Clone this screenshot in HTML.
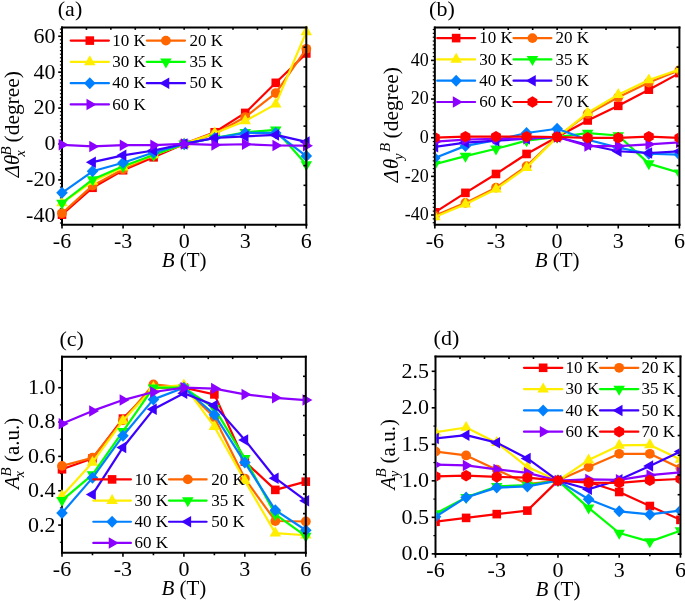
<!DOCTYPE html>
<html><head><meta charset="utf-8"><style>
html,body{margin:0;padding:0;background:#fff;}
svg{display:block;}
text{font-family:"Liberation Serif", serif;fill:#000;}
</style></head><body>
<div style="will-change:transform;width:685px;height:601px;background:#fff"><svg width="685" height="601" viewBox="0 0 685 601">
<rect width="685" height="601" fill="#fff"/>
<line x1="62" y1="27.45" x2="62" y2="224.8" stroke="#000" stroke-width="2.0" stroke-linecap="square"/>
<line x1="62" y1="224.8" x2="306.3" y2="224.8" stroke="#000" stroke-width="2.0" stroke-linecap="square"/>
<line x1="62.00" y1="224.8" x2="62.00" y2="228.60000000000002" stroke="#000" stroke-width="1.6"/>
<text x="62.00" y="247.70" font-size="22" text-anchor="middle">-6</text>
<line x1="123.08" y1="224.8" x2="123.08" y2="228.60000000000002" stroke="#000" stroke-width="1.6"/>
<text x="123.08" y="247.70" font-size="22" text-anchor="middle">-3</text>
<line x1="184.15" y1="224.8" x2="184.15" y2="228.60000000000002" stroke="#000" stroke-width="1.6"/>
<text x="184.15" y="247.70" font-size="22" text-anchor="middle">0</text>
<line x1="245.23" y1="224.8" x2="245.23" y2="228.60000000000002" stroke="#000" stroke-width="1.6"/>
<text x="245.23" y="247.70" font-size="22" text-anchor="middle">3</text>
<line x1="306.30" y1="224.8" x2="306.30" y2="228.60000000000002" stroke="#000" stroke-width="1.6"/>
<text x="306.30" y="247.70" font-size="22" text-anchor="middle">6</text>
<line x1="92.54" y1="224.8" x2="92.54" y2="227.20000000000002" stroke="#000" stroke-width="1.6"/>
<line x1="153.61" y1="224.8" x2="153.61" y2="227.20000000000002" stroke="#000" stroke-width="1.6"/>
<line x1="214.69" y1="224.8" x2="214.69" y2="227.20000000000002" stroke="#000" stroke-width="1.6"/>
<line x1="275.76" y1="224.8" x2="275.76" y2="227.20000000000002" stroke="#000" stroke-width="1.6"/>
<line x1="58.20" y1="36.24" x2="62" y2="36.24" stroke="#000" stroke-width="1.6"/>
<text x="55.40" y="42.64" font-size="22" text-anchor="end">60</text>
<line x1="58.20" y1="72.16" x2="62" y2="72.16" stroke="#000" stroke-width="1.6"/>
<text x="55.40" y="78.56" font-size="22" text-anchor="end">40</text>
<line x1="58.20" y1="108.08" x2="62" y2="108.08" stroke="#000" stroke-width="1.6"/>
<text x="55.40" y="114.48" font-size="22" text-anchor="end">20</text>
<line x1="58.20" y1="144.00" x2="62" y2="144.00" stroke="#000" stroke-width="1.6"/>
<text x="55.40" y="150.40" font-size="22" text-anchor="end">0</text>
<line x1="58.20" y1="179.92" x2="62" y2="179.92" stroke="#000" stroke-width="1.6"/>
<text x="55.40" y="186.32" font-size="22" text-anchor="end">-20</text>
<line x1="58.20" y1="215.84" x2="62" y2="215.84" stroke="#000" stroke-width="1.6"/>
<text x="55.40" y="222.24" font-size="22" text-anchor="end">-40</text>
<line x1="59.90" y1="223.02" x2="62" y2="223.02" stroke="#000" stroke-width="1.2"/>
<line x1="59.90" y1="219.43" x2="62" y2="219.43" stroke="#000" stroke-width="1.2"/>
<line x1="59.90" y1="212.25" x2="62" y2="212.25" stroke="#000" stroke-width="1.2"/>
<line x1="59.90" y1="208.66" x2="62" y2="208.66" stroke="#000" stroke-width="1.2"/>
<line x1="59.90" y1="205.06" x2="62" y2="205.06" stroke="#000" stroke-width="1.2"/>
<line x1="59.90" y1="201.47" x2="62" y2="201.47" stroke="#000" stroke-width="1.2"/>
<line x1="59.90" y1="197.88" x2="62" y2="197.88" stroke="#000" stroke-width="1.2"/>
<line x1="59.90" y1="194.29" x2="62" y2="194.29" stroke="#000" stroke-width="1.2"/>
<line x1="59.90" y1="190.70" x2="62" y2="190.70" stroke="#000" stroke-width="1.2"/>
<line x1="59.90" y1="187.10" x2="62" y2="187.10" stroke="#000" stroke-width="1.2"/>
<line x1="59.90" y1="183.51" x2="62" y2="183.51" stroke="#000" stroke-width="1.2"/>
<line x1="59.90" y1="176.33" x2="62" y2="176.33" stroke="#000" stroke-width="1.2"/>
<line x1="59.90" y1="172.74" x2="62" y2="172.74" stroke="#000" stroke-width="1.2"/>
<line x1="59.90" y1="169.14" x2="62" y2="169.14" stroke="#000" stroke-width="1.2"/>
<line x1="59.90" y1="165.55" x2="62" y2="165.55" stroke="#000" stroke-width="1.2"/>
<line x1="59.90" y1="161.96" x2="62" y2="161.96" stroke="#000" stroke-width="1.2"/>
<line x1="59.90" y1="158.37" x2="62" y2="158.37" stroke="#000" stroke-width="1.2"/>
<line x1="59.90" y1="154.78" x2="62" y2="154.78" stroke="#000" stroke-width="1.2"/>
<line x1="59.90" y1="151.18" x2="62" y2="151.18" stroke="#000" stroke-width="1.2"/>
<line x1="59.90" y1="147.59" x2="62" y2="147.59" stroke="#000" stroke-width="1.2"/>
<line x1="59.90" y1="140.41" x2="62" y2="140.41" stroke="#000" stroke-width="1.2"/>
<line x1="59.90" y1="136.82" x2="62" y2="136.82" stroke="#000" stroke-width="1.2"/>
<line x1="59.90" y1="133.22" x2="62" y2="133.22" stroke="#000" stroke-width="1.2"/>
<line x1="59.90" y1="129.63" x2="62" y2="129.63" stroke="#000" stroke-width="1.2"/>
<line x1="59.90" y1="126.04" x2="62" y2="126.04" stroke="#000" stroke-width="1.2"/>
<line x1="59.90" y1="122.45" x2="62" y2="122.45" stroke="#000" stroke-width="1.2"/>
<line x1="59.90" y1="118.86" x2="62" y2="118.86" stroke="#000" stroke-width="1.2"/>
<line x1="59.90" y1="115.26" x2="62" y2="115.26" stroke="#000" stroke-width="1.2"/>
<line x1="59.90" y1="111.67" x2="62" y2="111.67" stroke="#000" stroke-width="1.2"/>
<line x1="59.90" y1="104.49" x2="62" y2="104.49" stroke="#000" stroke-width="1.2"/>
<line x1="59.90" y1="100.90" x2="62" y2="100.90" stroke="#000" stroke-width="1.2"/>
<line x1="59.90" y1="97.30" x2="62" y2="97.30" stroke="#000" stroke-width="1.2"/>
<line x1="59.90" y1="93.71" x2="62" y2="93.71" stroke="#000" stroke-width="1.2"/>
<line x1="59.90" y1="90.12" x2="62" y2="90.12" stroke="#000" stroke-width="1.2"/>
<line x1="59.90" y1="86.53" x2="62" y2="86.53" stroke="#000" stroke-width="1.2"/>
<line x1="59.90" y1="82.94" x2="62" y2="82.94" stroke="#000" stroke-width="1.2"/>
<line x1="59.90" y1="79.34" x2="62" y2="79.34" stroke="#000" stroke-width="1.2"/>
<line x1="59.90" y1="75.75" x2="62" y2="75.75" stroke="#000" stroke-width="1.2"/>
<line x1="59.90" y1="68.57" x2="62" y2="68.57" stroke="#000" stroke-width="1.2"/>
<line x1="59.90" y1="64.98" x2="62" y2="64.98" stroke="#000" stroke-width="1.2"/>
<line x1="59.90" y1="61.38" x2="62" y2="61.38" stroke="#000" stroke-width="1.2"/>
<line x1="59.90" y1="57.79" x2="62" y2="57.79" stroke="#000" stroke-width="1.2"/>
<line x1="59.90" y1="54.20" x2="62" y2="54.20" stroke="#000" stroke-width="1.2"/>
<line x1="59.90" y1="50.61" x2="62" y2="50.61" stroke="#000" stroke-width="1.2"/>
<line x1="59.90" y1="47.02" x2="62" y2="47.02" stroke="#000" stroke-width="1.2"/>
<line x1="59.90" y1="43.42" x2="62" y2="43.42" stroke="#000" stroke-width="1.2"/>
<line x1="59.90" y1="39.83" x2="62" y2="39.83" stroke="#000" stroke-width="1.2"/>
<line x1="59.90" y1="32.65" x2="62" y2="32.65" stroke="#000" stroke-width="1.2"/>
<line x1="59.90" y1="29.06" x2="62" y2="29.06" stroke="#000" stroke-width="1.2"/>
<text x="184.15" y="267.30" font-size="21" text-anchor="middle"><tspan font-style="italic">B</tspan> (T)</text>
<g transform="translate(19,178.5) rotate(-90)"><text x="1.2" y="0" font-style="italic" font-size="21">Δθ</text><text x="23" y="-8.25" font-style="italic" font-size="15">B</text><text x="21.9" y="6" font-style="italic" font-size="14">x</text><text x="36.1" y="0" font-size="21.4">(degree)</text></g>
<text x="57.8" y="15.5" font-size="22">(a)</text>
<polyline points="62.00,214.64 92.54,187.78 123.08,170.23 153.61,157.33 184.15,143.90 214.69,132.26 245.23,112.92 275.76,82.83 306.30,53.45" fill="none" stroke="#ff0000" stroke-width="2.2" stroke-linejoin="round"/>
<rect x="57.70" y="210.34" width="8.60" height="8.60" fill="#ff0000"/>
<rect x="88.24" y="183.48" width="8.60" height="8.60" fill="#ff0000"/>
<rect x="118.78" y="165.93" width="8.60" height="8.60" fill="#ff0000"/>
<rect x="149.31" y="153.03" width="8.60" height="8.60" fill="#ff0000"/>
<rect x="179.85" y="139.60" width="8.60" height="8.60" fill="#ff0000"/>
<rect x="210.39" y="127.96" width="8.60" height="8.60" fill="#ff0000"/>
<rect x="240.93" y="108.62" width="8.60" height="8.60" fill="#ff0000"/>
<rect x="271.46" y="78.53" width="8.60" height="8.60" fill="#ff0000"/>
<rect x="302.00" y="49.15" width="8.60" height="8.60" fill="#ff0000"/>
<polyline points="62.00,213.21 92.54,185.63 123.08,169.33 153.61,155.00 184.15,143.90 214.69,134.05 245.23,117.04 275.76,93.04 306.30,48.80" fill="none" stroke="#ff6600" stroke-width="2.2" stroke-linejoin="round"/>
<circle cx="62.00" cy="213.21" r="4.9" fill="#ff6600"/>
<circle cx="92.54" cy="185.63" r="4.9" fill="#ff6600"/>
<circle cx="123.08" cy="169.33" r="4.9" fill="#ff6600"/>
<circle cx="153.61" cy="155.00" r="4.9" fill="#ff6600"/>
<circle cx="184.15" cy="143.90" r="4.9" fill="#ff6600"/>
<circle cx="214.69" cy="134.05" r="4.9" fill="#ff6600"/>
<circle cx="245.23" cy="117.04" r="4.9" fill="#ff6600"/>
<circle cx="275.76" cy="93.04" r="4.9" fill="#ff6600"/>
<circle cx="306.30" cy="48.80" r="4.9" fill="#ff6600"/>
<polyline points="62.00,203.00 92.54,181.51 123.08,167.18 153.61,155.00 184.15,143.90 214.69,133.15 245.23,120.98 275.76,104.14 306.30,31.96" fill="none" stroke="#ffee00" stroke-width="2.2" stroke-linejoin="round"/>
<polygon points="62.00,196.36 67.75,206.32 56.25,206.32" fill="#ffee00"/>
<polygon points="92.54,174.87 98.29,184.83 86.79,184.83" fill="#ffee00"/>
<polygon points="123.08,160.54 128.82,170.50 117.33,170.50" fill="#ffee00"/>
<polygon points="153.61,148.36 159.36,158.32 147.86,158.32" fill="#ffee00"/>
<polygon points="184.15,137.26 189.90,147.22 178.40,147.22" fill="#ffee00"/>
<polygon points="214.69,126.51 220.44,136.47 208.94,136.47" fill="#ffee00"/>
<polygon points="245.23,114.34 250.98,124.29 239.48,124.29" fill="#ffee00"/>
<polygon points="275.76,97.50 281.51,107.46 270.01,107.46" fill="#ffee00"/>
<polygon points="306.30,25.32 312.05,35.28 300.55,35.28" fill="#ffee00"/>
<polyline points="62.00,203.00 92.54,179.54 123.08,166.29 153.61,155.00 184.15,143.90 214.69,137.99 245.23,132.26 275.76,129.93 306.30,164.50" fill="none" stroke="#00ff00" stroke-width="2.2" stroke-linejoin="round"/>
<polygon points="62.00,209.64 67.75,199.68 56.25,199.68" fill="#00ff00"/>
<polygon points="92.54,186.18 98.29,176.22 86.79,176.22" fill="#00ff00"/>
<polygon points="123.08,172.93 128.82,162.97 117.33,162.97" fill="#00ff00"/>
<polygon points="153.61,161.64 159.36,151.68 147.86,151.68" fill="#00ff00"/>
<polygon points="184.15,150.54 189.90,140.58 178.40,140.58" fill="#00ff00"/>
<polygon points="214.69,144.63 220.44,134.67 208.94,134.67" fill="#00ff00"/>
<polygon points="245.23,138.90 250.98,128.94 239.48,128.94" fill="#00ff00"/>
<polygon points="275.76,136.57 281.51,126.61 270.01,126.61" fill="#00ff00"/>
<polygon points="306.30,171.14 312.05,161.18 300.55,161.18" fill="#00ff00"/>
<polyline points="62.00,192.79 92.54,171.30 123.08,162.71 153.61,152.50 184.15,143.90 214.69,137.99 245.23,132.97 275.76,132.97 306.30,156.08" fill="none" stroke="#0080ff" stroke-width="2.2" stroke-linejoin="round"/>
<polygon points="62.00,186.79 67.80,192.79 62.00,198.79 56.20,192.79" fill="#0080ff"/>
<polygon points="92.54,165.30 98.34,171.30 92.54,177.30 86.74,171.30" fill="#0080ff"/>
<polygon points="123.08,156.71 128.88,162.71 123.08,168.71 117.28,162.71" fill="#0080ff"/>
<polygon points="153.61,146.50 159.41,152.50 153.61,158.50 147.81,152.50" fill="#0080ff"/>
<polygon points="184.15,137.90 189.95,143.90 184.15,149.90 178.35,143.90" fill="#0080ff"/>
<polygon points="214.69,131.99 220.49,137.99 214.69,143.99 208.89,137.99" fill="#0080ff"/>
<polygon points="245.23,126.97 251.03,132.97 245.23,138.97 239.43,132.97" fill="#0080ff"/>
<polygon points="275.76,126.97 281.56,132.97 275.76,138.97 269.96,132.97" fill="#0080ff"/>
<polygon points="306.30,150.08 312.10,156.08 306.30,162.08 300.50,156.08" fill="#0080ff"/>
<polyline points="92.54,162.17 123.08,155.36 153.61,150.53 184.15,143.90 214.69,137.99 245.23,136.38 275.76,134.94 306.30,141.93" fill="none" stroke="#3c00ff" stroke-width="2.2" stroke-linejoin="round"/>
<polygon points="85.90,162.17 95.86,156.42 95.86,167.92" fill="#3c00ff"/>
<polygon points="116.44,155.36 126.39,149.61 126.39,161.11" fill="#3c00ff"/>
<polygon points="146.97,150.53 156.93,144.78 156.93,156.28" fill="#3c00ff"/>
<polygon points="177.51,143.90 187.47,138.15 187.47,149.65" fill="#3c00ff"/>
<polygon points="208.05,137.99 218.01,132.24 218.01,143.74" fill="#3c00ff"/>
<polygon points="238.59,136.38 248.54,130.63 248.54,142.13" fill="#3c00ff"/>
<polygon points="269.12,134.94 279.08,129.19 279.08,140.69" fill="#3c00ff"/>
<polygon points="299.66,141.93 309.62,136.18 309.62,147.68" fill="#3c00ff"/>
<polyline points="62.00,144.80 92.54,146.41 123.08,145.15 153.61,145.15 184.15,143.90 214.69,144.97 245.23,144.26 275.76,145.51 306.30,145.69" fill="none" stroke="#8c00ff" stroke-width="2.2" stroke-linejoin="round"/>
<polygon points="68.64,144.80 58.68,139.05 58.68,150.55" fill="#8c00ff"/>
<polygon points="99.18,146.41 89.22,140.66 89.22,152.16" fill="#8c00ff"/>
<polygon points="129.71,145.15 119.76,139.40 119.76,150.90" fill="#8c00ff"/>
<polygon points="160.25,145.15 150.29,139.40 150.29,150.90" fill="#8c00ff"/>
<polygon points="190.79,143.90 180.83,138.15 180.83,149.65" fill="#8c00ff"/>
<polygon points="221.33,144.97 211.37,139.22 211.37,150.72" fill="#8c00ff"/>
<polygon points="251.86,144.26 241.91,138.51 241.91,150.01" fill="#8c00ff"/>
<polygon points="282.40,145.51 272.44,139.76 272.44,151.26" fill="#8c00ff"/>
<polygon points="312.94,145.69 302.98,139.94 302.98,151.44" fill="#8c00ff"/>
<line x1="70.70" y1="40.60" x2="108.90" y2="40.60" stroke="#ff0000" stroke-width="2.2" stroke-linecap="round"/>
<rect x="85.50" y="36.30" width="8.60" height="8.60" fill="#ff0000"/>
<text x="145.80" y="45.70" font-size="17" text-anchor="end">10 K</text>
<line x1="146.80" y1="40.60" x2="185.00" y2="40.60" stroke="#ff6600" stroke-width="2.2" stroke-linecap="round"/>
<circle cx="165.90" cy="40.60" r="4.9" fill="#ff6600"/>
<text x="223.00" y="45.70" font-size="17" text-anchor="end">20 K</text>
<line x1="70.70" y1="61.87" x2="108.90" y2="61.87" stroke="#ffee00" stroke-width="2.2" stroke-linecap="round"/>
<polygon points="89.80,55.23 95.55,65.19 84.05,65.19" fill="#ffee00"/>
<text x="145.80" y="66.97" font-size="17" text-anchor="end">30 K</text>
<line x1="146.80" y1="61.87" x2="185.00" y2="61.87" stroke="#00ff00" stroke-width="2.2" stroke-linecap="round"/>
<polygon points="165.90,68.51 171.65,58.55 160.15,58.55" fill="#00ff00"/>
<text x="223.00" y="66.97" font-size="17" text-anchor="end">35 K</text>
<line x1="70.70" y1="83.14" x2="108.90" y2="83.14" stroke="#0080ff" stroke-width="2.2" stroke-linecap="round"/>
<polygon points="89.80,77.14 95.60,83.14 89.80,89.14 84.00,83.14" fill="#0080ff"/>
<text x="145.80" y="88.24" font-size="17" text-anchor="end">40 K</text>
<line x1="146.80" y1="83.14" x2="185.00" y2="83.14" stroke="#3c00ff" stroke-width="2.2" stroke-linecap="round"/>
<polygon points="159.26,83.14 169.22,77.39 169.22,88.89" fill="#3c00ff"/>
<text x="223.00" y="88.24" font-size="17" text-anchor="end">50 K</text>
<line x1="70.70" y1="104.41" x2="108.90" y2="104.41" stroke="#8c00ff" stroke-width="2.2" stroke-linecap="round"/>
<polygon points="96.44,104.41 86.48,98.66 86.48,110.16" fill="#8c00ff"/>
<text x="145.80" y="109.51" font-size="17" text-anchor="end">60 K</text>
<line x1="62" y1="27.45" x2="306.3" y2="27.45" stroke="#000" stroke-width="2.0" stroke-linecap="square"/>
<line x1="306.3" y1="27.45" x2="306.3" y2="224.8" stroke="#000" stroke-width="2.0" stroke-linecap="square"/>
<line x1="86.43" y1="27.45" x2="86.43" y2="29.849999999999998" stroke="#000" stroke-width="1.6"/>
<line x1="303.50" y1="47.19" x2="306.3" y2="47.19" stroke="#000" stroke-width="1.6"/>
<line x1="110.86" y1="27.45" x2="110.86" y2="29.849999999999998" stroke="#000" stroke-width="1.6"/>
<line x1="303.50" y1="66.92" x2="306.3" y2="66.92" stroke="#000" stroke-width="1.6"/>
<line x1="135.29" y1="27.45" x2="135.29" y2="29.849999999999998" stroke="#000" stroke-width="1.6"/>
<line x1="303.50" y1="86.66" x2="306.3" y2="86.66" stroke="#000" stroke-width="1.6"/>
<line x1="159.72" y1="27.45" x2="159.72" y2="29.849999999999998" stroke="#000" stroke-width="1.6"/>
<line x1="303.50" y1="106.39" x2="306.3" y2="106.39" stroke="#000" stroke-width="1.6"/>
<line x1="184.15" y1="27.45" x2="184.15" y2="29.849999999999998" stroke="#000" stroke-width="1.6"/>
<line x1="303.50" y1="126.13" x2="306.3" y2="126.13" stroke="#000" stroke-width="1.6"/>
<line x1="208.58" y1="27.45" x2="208.58" y2="29.849999999999998" stroke="#000" stroke-width="1.6"/>
<line x1="303.50" y1="145.86" x2="306.3" y2="145.86" stroke="#000" stroke-width="1.6"/>
<line x1="233.01" y1="27.45" x2="233.01" y2="29.849999999999998" stroke="#000" stroke-width="1.6"/>
<line x1="303.50" y1="165.60" x2="306.3" y2="165.60" stroke="#000" stroke-width="1.6"/>
<line x1="257.44" y1="27.45" x2="257.44" y2="29.849999999999998" stroke="#000" stroke-width="1.6"/>
<line x1="303.50" y1="185.33" x2="306.3" y2="185.33" stroke="#000" stroke-width="1.6"/>
<line x1="281.87" y1="27.45" x2="281.87" y2="29.849999999999998" stroke="#000" stroke-width="1.6"/>
<line x1="303.50" y1="205.06" x2="306.3" y2="205.06" stroke="#000" stroke-width="1.6"/>
<line x1="434.85" y1="27.6" x2="434.85" y2="224.7" stroke="#000" stroke-width="2.0" stroke-linecap="square"/>
<line x1="434.85" y1="224.7" x2="679.4" y2="224.7" stroke="#000" stroke-width="2.0" stroke-linecap="square"/>
<line x1="434.85" y1="224.7" x2="434.85" y2="228.5" stroke="#000" stroke-width="1.6"/>
<text x="434.85" y="247.60" font-size="22" text-anchor="middle">-6</text>
<line x1="495.99" y1="224.7" x2="495.99" y2="228.5" stroke="#000" stroke-width="1.6"/>
<text x="495.99" y="247.60" font-size="22" text-anchor="middle">-3</text>
<line x1="557.12" y1="224.7" x2="557.12" y2="228.5" stroke="#000" stroke-width="1.6"/>
<text x="557.12" y="247.60" font-size="22" text-anchor="middle">0</text>
<line x1="618.26" y1="224.7" x2="618.26" y2="228.5" stroke="#000" stroke-width="1.6"/>
<text x="618.26" y="247.60" font-size="22" text-anchor="middle">3</text>
<line x1="679.40" y1="224.7" x2="679.40" y2="228.5" stroke="#000" stroke-width="1.6"/>
<text x="679.40" y="247.60" font-size="22" text-anchor="middle">6</text>
<line x1="465.42" y1="224.7" x2="465.42" y2="227.1" stroke="#000" stroke-width="1.6"/>
<line x1="526.56" y1="224.7" x2="526.56" y2="227.1" stroke="#000" stroke-width="1.6"/>
<line x1="587.69" y1="224.7" x2="587.69" y2="227.1" stroke="#000" stroke-width="1.6"/>
<line x1="648.83" y1="224.7" x2="648.83" y2="227.1" stroke="#000" stroke-width="1.6"/>
<line x1="431.05" y1="60.40" x2="434.85" y2="60.40" stroke="#000" stroke-width="1.6"/>
<text x="428.70" y="65.70" font-size="18" text-anchor="end">40</text>
<line x1="431.05" y1="99.05" x2="434.85" y2="99.05" stroke="#000" stroke-width="1.6"/>
<text x="428.70" y="104.35" font-size="18" text-anchor="end">20</text>
<line x1="431.05" y1="137.70" x2="434.85" y2="137.70" stroke="#000" stroke-width="1.6"/>
<text x="428.70" y="143.00" font-size="18" text-anchor="end">0</text>
<line x1="431.05" y1="176.35" x2="434.85" y2="176.35" stroke="#000" stroke-width="1.6"/>
<text x="428.70" y="181.65" font-size="18" text-anchor="end">-20</text>
<line x1="431.05" y1="215.00" x2="434.85" y2="215.00" stroke="#000" stroke-width="1.6"/>
<text x="428.70" y="220.30" font-size="18" text-anchor="end">-40</text>
<line x1="432.75" y1="222.73" x2="434.85" y2="222.73" stroke="#000" stroke-width="1.2"/>
<line x1="432.75" y1="218.87" x2="434.85" y2="218.87" stroke="#000" stroke-width="1.2"/>
<line x1="432.75" y1="211.13" x2="434.85" y2="211.13" stroke="#000" stroke-width="1.2"/>
<line x1="432.75" y1="207.27" x2="434.85" y2="207.27" stroke="#000" stroke-width="1.2"/>
<line x1="432.75" y1="203.40" x2="434.85" y2="203.40" stroke="#000" stroke-width="1.2"/>
<line x1="432.75" y1="199.54" x2="434.85" y2="199.54" stroke="#000" stroke-width="1.2"/>
<line x1="432.75" y1="195.67" x2="434.85" y2="195.67" stroke="#000" stroke-width="1.2"/>
<line x1="432.75" y1="191.81" x2="434.85" y2="191.81" stroke="#000" stroke-width="1.2"/>
<line x1="432.75" y1="187.94" x2="434.85" y2="187.94" stroke="#000" stroke-width="1.2"/>
<line x1="432.75" y1="184.08" x2="434.85" y2="184.08" stroke="#000" stroke-width="1.2"/>
<line x1="432.75" y1="180.21" x2="434.85" y2="180.21" stroke="#000" stroke-width="1.2"/>
<line x1="432.75" y1="172.48" x2="434.85" y2="172.48" stroke="#000" stroke-width="1.2"/>
<line x1="432.75" y1="168.62" x2="434.85" y2="168.62" stroke="#000" stroke-width="1.2"/>
<line x1="432.75" y1="164.75" x2="434.85" y2="164.75" stroke="#000" stroke-width="1.2"/>
<line x1="432.75" y1="160.89" x2="434.85" y2="160.89" stroke="#000" stroke-width="1.2"/>
<line x1="432.75" y1="157.02" x2="434.85" y2="157.02" stroke="#000" stroke-width="1.2"/>
<line x1="432.75" y1="153.16" x2="434.85" y2="153.16" stroke="#000" stroke-width="1.2"/>
<line x1="432.75" y1="149.29" x2="434.85" y2="149.29" stroke="#000" stroke-width="1.2"/>
<line x1="432.75" y1="145.43" x2="434.85" y2="145.43" stroke="#000" stroke-width="1.2"/>
<line x1="432.75" y1="141.56" x2="434.85" y2="141.56" stroke="#000" stroke-width="1.2"/>
<line x1="432.75" y1="133.83" x2="434.85" y2="133.83" stroke="#000" stroke-width="1.2"/>
<line x1="432.75" y1="129.97" x2="434.85" y2="129.97" stroke="#000" stroke-width="1.2"/>
<line x1="432.75" y1="126.10" x2="434.85" y2="126.10" stroke="#000" stroke-width="1.2"/>
<line x1="432.75" y1="122.24" x2="434.85" y2="122.24" stroke="#000" stroke-width="1.2"/>
<line x1="432.75" y1="118.37" x2="434.85" y2="118.37" stroke="#000" stroke-width="1.2"/>
<line x1="432.75" y1="114.51" x2="434.85" y2="114.51" stroke="#000" stroke-width="1.2"/>
<line x1="432.75" y1="110.64" x2="434.85" y2="110.64" stroke="#000" stroke-width="1.2"/>
<line x1="432.75" y1="106.78" x2="434.85" y2="106.78" stroke="#000" stroke-width="1.2"/>
<line x1="432.75" y1="102.91" x2="434.85" y2="102.91" stroke="#000" stroke-width="1.2"/>
<line x1="432.75" y1="95.18" x2="434.85" y2="95.18" stroke="#000" stroke-width="1.2"/>
<line x1="432.75" y1="91.32" x2="434.85" y2="91.32" stroke="#000" stroke-width="1.2"/>
<line x1="432.75" y1="87.45" x2="434.85" y2="87.45" stroke="#000" stroke-width="1.2"/>
<line x1="432.75" y1="83.59" x2="434.85" y2="83.59" stroke="#000" stroke-width="1.2"/>
<line x1="432.75" y1="79.72" x2="434.85" y2="79.72" stroke="#000" stroke-width="1.2"/>
<line x1="432.75" y1="75.86" x2="434.85" y2="75.86" stroke="#000" stroke-width="1.2"/>
<line x1="432.75" y1="71.99" x2="434.85" y2="71.99" stroke="#000" stroke-width="1.2"/>
<line x1="432.75" y1="68.13" x2="434.85" y2="68.13" stroke="#000" stroke-width="1.2"/>
<line x1="432.75" y1="64.26" x2="434.85" y2="64.26" stroke="#000" stroke-width="1.2"/>
<line x1="432.75" y1="56.53" x2="434.85" y2="56.53" stroke="#000" stroke-width="1.2"/>
<line x1="432.75" y1="52.67" x2="434.85" y2="52.67" stroke="#000" stroke-width="1.2"/>
<line x1="432.75" y1="48.80" x2="434.85" y2="48.80" stroke="#000" stroke-width="1.2"/>
<line x1="432.75" y1="44.94" x2="434.85" y2="44.94" stroke="#000" stroke-width="1.2"/>
<line x1="432.75" y1="41.07" x2="434.85" y2="41.07" stroke="#000" stroke-width="1.2"/>
<line x1="432.75" y1="37.21" x2="434.85" y2="37.21" stroke="#000" stroke-width="1.2"/>
<line x1="432.75" y1="33.34" x2="434.85" y2="33.34" stroke="#000" stroke-width="1.2"/>
<line x1="432.75" y1="29.48" x2="434.85" y2="29.48" stroke="#000" stroke-width="1.2"/>
<text x="557.12" y="267.20" font-size="21" text-anchor="middle"><tspan font-style="italic">B</tspan> (T)</text>
<g transform="translate(398.3,183.3) rotate(-90)"><text x="1" y="0" font-style="italic" font-size="21">Δ</text><text x="14.3" y="0" font-style="italic" font-size="21">θ</text><text x="31.2" y="-8.8" font-style="italic" font-size="15">B</text><text x="23.5" y="5.1" font-style="italic" font-size="14">y</text><text x="44.9" y="0" font-size="21.4">(degree)</text></g>
<text x="429.1" y="16.1" font-size="22">(b)</text>
<clipPath id="c43427"><rect x="435.85" y="28.6" width="242.55" height="195.10"/></clipPath><g clip-path="url(#c43427)">
<polyline points="434.85,212.29 465.42,192.85 495.99,173.98 526.56,153.96 557.12,137.02 587.69,120.47 618.26,105.84 648.83,89.67 679.40,73.11" fill="none" stroke="#ff0000" stroke-width="2.2" stroke-linejoin="round"/>
<rect x="430.55" y="207.99" width="8.60" height="8.60" fill="#ff0000"/>
<rect x="461.12" y="188.55" width="8.60" height="8.60" fill="#ff0000"/>
<rect x="491.69" y="169.68" width="8.60" height="8.60" fill="#ff0000"/>
<rect x="522.26" y="149.66" width="8.60" height="8.60" fill="#ff0000"/>
<rect x="552.83" y="132.72" width="8.60" height="8.60" fill="#ff0000"/>
<rect x="583.39" y="116.17" width="8.60" height="8.60" fill="#ff0000"/>
<rect x="613.96" y="101.54" width="8.60" height="8.60" fill="#ff0000"/>
<rect x="644.53" y="85.37" width="8.60" height="8.60" fill="#ff0000"/>
<rect x="675.10" y="68.81" width="8.60" height="8.60" fill="#ff0000"/>
<polyline points="434.85,215.75 465.42,202.86 495.99,187.65 526.56,166.09 557.12,137.02 587.69,113.92 618.26,97.17 648.83,82.54 679.40,70.22" fill="none" stroke="#ff6600" stroke-width="2.2" stroke-linejoin="round"/>
<circle cx="434.85" cy="215.75" r="4.9" fill="#ff6600"/>
<circle cx="465.42" cy="202.86" r="4.9" fill="#ff6600"/>
<circle cx="495.99" cy="187.65" r="4.9" fill="#ff6600"/>
<circle cx="526.56" cy="166.09" r="4.9" fill="#ff6600"/>
<circle cx="557.12" cy="137.02" r="4.9" fill="#ff6600"/>
<circle cx="587.69" cy="113.92" r="4.9" fill="#ff6600"/>
<circle cx="618.26" cy="97.17" r="4.9" fill="#ff6600"/>
<circle cx="648.83" cy="82.54" r="4.9" fill="#ff6600"/>
<circle cx="679.40" cy="70.22" r="4.9" fill="#ff6600"/>
<polyline points="434.85,216.91 465.42,204.20 495.99,189.19 526.56,167.63 557.12,137.02 587.69,112.77 618.26,94.67 648.83,80.04 679.40,69.45" fill="none" stroke="#ffee00" stroke-width="2.2" stroke-linejoin="round"/>
<polygon points="434.85,210.27 440.60,220.23 429.10,220.23" fill="#ffee00"/>
<polygon points="465.42,197.57 471.17,207.52 459.67,207.52" fill="#ffee00"/>
<polygon points="495.99,182.55 501.74,192.51 490.24,192.51" fill="#ffee00"/>
<polygon points="526.56,160.99 532.31,170.95 520.81,170.95" fill="#ffee00"/>
<polygon points="557.12,130.38 562.88,140.34 551.38,140.34" fill="#ffee00"/>
<polygon points="587.69,106.13 593.44,116.09 581.94,116.09" fill="#ffee00"/>
<polygon points="618.26,88.03 624.01,97.99 612.51,97.99" fill="#ffee00"/>
<polygon points="648.83,73.40 654.58,83.36 643.08,83.36" fill="#ffee00"/>
<polygon points="679.40,62.82 685.15,72.77 673.65,72.77" fill="#ffee00"/>
<polyline points="434.85,164.16 465.42,156.08 495.99,148.76 526.56,140.68 557.12,137.02 587.69,133.17 618.26,135.48 648.83,163.59 679.40,172.83" fill="none" stroke="#00ff00" stroke-width="2.2" stroke-linejoin="round"/>
<polygon points="434.85,170.80 440.60,160.85 429.10,160.85" fill="#00ff00"/>
<polygon points="465.42,162.72 471.17,152.76 459.67,152.76" fill="#00ff00"/>
<polygon points="495.99,155.40 501.74,145.45 490.24,145.45" fill="#00ff00"/>
<polygon points="526.56,147.32 532.31,137.36 520.81,137.36" fill="#00ff00"/>
<polygon points="557.12,143.66 562.88,133.70 551.38,133.70" fill="#00ff00"/>
<polygon points="587.69,139.81 593.44,129.85 581.94,129.85" fill="#00ff00"/>
<polygon points="618.26,142.12 624.01,132.16 612.51,132.16" fill="#00ff00"/>
<polygon points="648.83,170.23 654.58,160.27 643.08,160.27" fill="#00ff00"/>
<polygon points="679.40,179.47 685.15,169.51 673.65,169.51" fill="#00ff00"/>
<polyline points="434.85,158.00 465.42,145.88 495.99,140.29 526.56,132.98 557.12,128.75 587.69,139.72 618.26,147.61 648.83,153.77 679.40,154.54" fill="none" stroke="#0080ff" stroke-width="2.2" stroke-linejoin="round"/>
<polygon points="434.85,152.00 440.65,158.00 434.85,164.00 429.05,158.00" fill="#0080ff"/>
<polygon points="465.42,139.88 471.22,145.88 465.42,151.88 459.62,145.88" fill="#0080ff"/>
<polygon points="495.99,134.29 501.79,140.29 495.99,146.29 490.19,140.29" fill="#0080ff"/>
<polygon points="526.56,126.98 532.36,132.98 526.56,138.98 520.76,132.98" fill="#0080ff"/>
<polygon points="557.12,122.75 562.92,128.75 557.12,134.75 551.33,128.75" fill="#0080ff"/>
<polygon points="587.69,133.72 593.49,139.72 587.69,145.72 581.89,139.72" fill="#0080ff"/>
<polygon points="618.26,141.61 624.06,147.61 618.26,153.61 612.46,147.61" fill="#0080ff"/>
<polygon points="648.83,147.77 654.63,153.77 648.83,159.77 643.03,153.77" fill="#0080ff"/>
<polygon points="679.40,148.54 685.20,154.54 679.40,160.54 673.60,154.54" fill="#0080ff"/>
<polyline points="434.85,146.84 465.42,142.60 495.99,140.68 526.56,138.75 557.12,137.02 587.69,144.72 618.26,151.27 648.83,153.00 679.40,151.27" fill="none" stroke="#3c00ff" stroke-width="2.2" stroke-linejoin="round"/>
<polygon points="428.21,146.84 438.17,141.09 438.17,152.59" fill="#3c00ff"/>
<polygon points="458.78,142.60 468.74,136.85 468.74,148.35" fill="#3c00ff"/>
<polygon points="489.35,140.68 499.31,134.93 499.31,146.43" fill="#3c00ff"/>
<polygon points="519.92,138.75 529.88,133.00 529.88,144.50" fill="#3c00ff"/>
<polygon points="550.49,137.02 560.44,131.27 560.44,142.77" fill="#3c00ff"/>
<polygon points="581.05,144.72 591.01,138.97 591.01,150.47" fill="#3c00ff"/>
<polygon points="611.62,151.27 621.58,145.52 621.58,157.02" fill="#3c00ff"/>
<polygon points="642.19,153.00 652.15,147.25 652.15,158.75" fill="#3c00ff"/>
<polygon points="672.76,151.27 682.72,145.52 682.72,157.02" fill="#3c00ff"/>
<polyline points="434.85,141.64 465.42,139.53 495.99,138.75 526.56,138.75 557.12,137.02 587.69,146.07 618.26,146.07 648.83,144.34 679.40,142.41" fill="none" stroke="#8c00ff" stroke-width="2.2" stroke-linejoin="round"/>
<polygon points="441.49,141.64 431.53,135.89 431.53,147.39" fill="#8c00ff"/>
<polygon points="472.06,139.53 462.10,133.78 462.10,145.28" fill="#8c00ff"/>
<polygon points="502.63,138.75 492.67,133.00 492.67,144.50" fill="#8c00ff"/>
<polygon points="533.20,138.75 523.24,133.00 523.24,144.50" fill="#8c00ff"/>
<polygon points="563.76,137.02 553.81,131.27 553.81,142.77" fill="#8c00ff"/>
<polygon points="594.33,146.07 584.37,140.32 584.37,151.82" fill="#8c00ff"/>
<polygon points="624.90,146.07 614.94,140.32 614.94,151.82" fill="#8c00ff"/>
<polygon points="655.47,144.34 645.51,138.59 645.51,150.09" fill="#8c00ff"/>
<polygon points="686.04,142.41 676.08,136.66 676.08,148.16" fill="#8c00ff"/>
<polyline points="434.85,137.60 465.42,136.64 495.99,136.64 526.56,136.64 557.12,137.02 587.69,137.79 618.26,137.79 648.83,136.64 679.40,137.79" fill="none" stroke="#ff0000" stroke-width="2.2" stroke-linejoin="round"/>
<polygon points="434.85,131.90 439.79,134.75 439.79,140.45 434.85,143.30 429.91,140.45 429.91,134.75" fill="#ff0000"/>
<polygon points="465.42,130.94 470.36,133.79 470.36,139.49 465.42,142.34 460.48,139.49 460.48,133.79" fill="#ff0000"/>
<polygon points="495.99,130.94 500.92,133.79 500.92,139.49 495.99,142.34 491.05,139.49 491.05,133.79" fill="#ff0000"/>
<polygon points="526.56,130.94 531.49,133.79 531.49,139.49 526.56,142.34 521.62,139.49 521.62,133.79" fill="#ff0000"/>
<polygon points="557.12,131.32 562.06,134.17 562.06,139.87 557.12,142.72 552.19,139.87 552.19,134.17" fill="#ff0000"/>
<polygon points="587.69,132.09 592.63,134.94 592.63,140.64 587.69,143.49 582.76,140.64 582.76,134.94" fill="#ff0000"/>
<polygon points="618.26,132.09 623.20,134.94 623.20,140.64 618.26,143.49 613.33,140.64 613.33,134.94" fill="#ff0000"/>
<polygon points="648.83,130.94 653.77,133.79 653.77,139.49 648.83,142.34 643.89,139.49 643.89,133.79" fill="#ff0000"/>
<polygon points="679.40,132.09 684.34,134.94 684.34,140.64 679.40,143.49 674.46,140.64 674.46,134.94" fill="#ff0000"/>
</g>
<line x1="437.20" y1="38.10" x2="475.10" y2="38.10" stroke="#ff0000" stroke-width="2.2" stroke-linecap="round"/>
<rect x="451.85" y="33.80" width="8.60" height="8.60" fill="#ff0000"/>
<text x="512.80" y="43.20" font-size="17" text-anchor="end">10 K</text>
<line x1="513.50" y1="38.10" x2="551.40" y2="38.10" stroke="#ff6600" stroke-width="2.2" stroke-linecap="round"/>
<circle cx="532.45" cy="38.10" r="4.9" fill="#ff6600"/>
<text x="589.10" y="43.20" font-size="17" text-anchor="end">20 K</text>
<line x1="437.20" y1="59.40" x2="475.10" y2="59.40" stroke="#ffee00" stroke-width="2.2" stroke-linecap="round"/>
<polygon points="456.15,52.76 461.90,62.72 450.40,62.72" fill="#ffee00"/>
<text x="512.80" y="64.50" font-size="17" text-anchor="end">30 K</text>
<line x1="513.50" y1="59.40" x2="551.40" y2="59.40" stroke="#00ff00" stroke-width="2.2" stroke-linecap="round"/>
<polygon points="532.45,66.04 538.20,56.08 526.70,56.08" fill="#00ff00"/>
<text x="589.10" y="64.50" font-size="17" text-anchor="end">35 K</text>
<line x1="437.20" y1="80.70" x2="475.10" y2="80.70" stroke="#0080ff" stroke-width="2.2" stroke-linecap="round"/>
<polygon points="456.15,74.70 461.95,80.70 456.15,86.70 450.35,80.70" fill="#0080ff"/>
<text x="512.80" y="85.80" font-size="17" text-anchor="end">40 K</text>
<line x1="513.50" y1="80.70" x2="551.40" y2="80.70" stroke="#3c00ff" stroke-width="2.2" stroke-linecap="round"/>
<polygon points="525.81,80.70 535.77,74.95 535.77,86.45" fill="#3c00ff"/>
<text x="589.10" y="85.80" font-size="17" text-anchor="end">50 K</text>
<line x1="437.20" y1="102.00" x2="475.10" y2="102.00" stroke="#8c00ff" stroke-width="2.2" stroke-linecap="round"/>
<polygon points="462.79,102.00 452.83,96.25 452.83,107.75" fill="#8c00ff"/>
<text x="512.80" y="107.10" font-size="17" text-anchor="end">60 K</text>
<line x1="513.50" y1="102.00" x2="551.40" y2="102.00" stroke="#ff0000" stroke-width="2.2" stroke-linecap="round"/>
<polygon points="532.45,96.30 537.39,99.15 537.39,104.85 532.45,107.70 527.51,104.85 527.51,99.15" fill="#ff0000"/>
<text x="589.10" y="107.10" font-size="17" text-anchor="end">70 K</text>
<line x1="434.85" y1="27.6" x2="679.4" y2="27.6" stroke="#000" stroke-width="2.0" stroke-linecap="square"/>
<line x1="679.4" y1="27.6" x2="679.4" y2="224.7" stroke="#000" stroke-width="2.0" stroke-linecap="square"/>
<line x1="459.31" y1="27.6" x2="459.31" y2="30.0" stroke="#000" stroke-width="1.6"/>
<line x1="676.60" y1="47.31" x2="679.4" y2="47.31" stroke="#000" stroke-width="1.6"/>
<line x1="483.76" y1="27.6" x2="483.76" y2="30.0" stroke="#000" stroke-width="1.6"/>
<line x1="676.60" y1="67.02" x2="679.4" y2="67.02" stroke="#000" stroke-width="1.6"/>
<line x1="508.22" y1="27.6" x2="508.22" y2="30.0" stroke="#000" stroke-width="1.6"/>
<line x1="676.60" y1="86.73" x2="679.4" y2="86.73" stroke="#000" stroke-width="1.6"/>
<line x1="532.67" y1="27.6" x2="532.67" y2="30.0" stroke="#000" stroke-width="1.6"/>
<line x1="676.60" y1="106.44" x2="679.4" y2="106.44" stroke="#000" stroke-width="1.6"/>
<line x1="557.12" y1="27.6" x2="557.12" y2="30.0" stroke="#000" stroke-width="1.6"/>
<line x1="676.60" y1="126.15" x2="679.4" y2="126.15" stroke="#000" stroke-width="1.6"/>
<line x1="581.58" y1="27.6" x2="581.58" y2="30.0" stroke="#000" stroke-width="1.6"/>
<line x1="676.60" y1="145.86" x2="679.4" y2="145.86" stroke="#000" stroke-width="1.6"/>
<line x1="606.03" y1="27.6" x2="606.03" y2="30.0" stroke="#000" stroke-width="1.6"/>
<line x1="676.60" y1="165.57" x2="679.4" y2="165.57" stroke="#000" stroke-width="1.6"/>
<line x1="630.49" y1="27.6" x2="630.49" y2="30.0" stroke="#000" stroke-width="1.6"/>
<line x1="676.60" y1="185.28" x2="679.4" y2="185.28" stroke="#000" stroke-width="1.6"/>
<line x1="654.94" y1="27.6" x2="654.94" y2="30.0" stroke="#000" stroke-width="1.6"/>
<line x1="676.60" y1="204.99" x2="679.4" y2="204.99" stroke="#000" stroke-width="1.6"/>
<line x1="62" y1="356.7" x2="62" y2="552.85" stroke="#000" stroke-width="2.0" stroke-linecap="square"/>
<line x1="62" y1="552.85" x2="305.8" y2="552.85" stroke="#000" stroke-width="2.0" stroke-linecap="square"/>
<line x1="62.00" y1="552.85" x2="62.00" y2="556.65" stroke="#000" stroke-width="1.6"/>
<text x="62.00" y="575.75" font-size="22" text-anchor="middle">-6</text>
<line x1="122.95" y1="552.85" x2="122.95" y2="556.65" stroke="#000" stroke-width="1.6"/>
<text x="122.95" y="575.75" font-size="22" text-anchor="middle">-3</text>
<line x1="183.90" y1="552.85" x2="183.90" y2="556.65" stroke="#000" stroke-width="1.6"/>
<text x="183.90" y="575.75" font-size="22" text-anchor="middle">0</text>
<line x1="244.85" y1="552.85" x2="244.85" y2="556.65" stroke="#000" stroke-width="1.6"/>
<text x="244.85" y="575.75" font-size="22" text-anchor="middle">3</text>
<line x1="305.80" y1="552.85" x2="305.80" y2="556.65" stroke="#000" stroke-width="1.6"/>
<text x="305.80" y="575.75" font-size="22" text-anchor="middle">6</text>
<line x1="92.47" y1="552.85" x2="92.47" y2="555.25" stroke="#000" stroke-width="1.6"/>
<line x1="153.43" y1="552.85" x2="153.43" y2="555.25" stroke="#000" stroke-width="1.6"/>
<line x1="214.38" y1="552.85" x2="214.38" y2="555.25" stroke="#000" stroke-width="1.6"/>
<line x1="275.33" y1="552.85" x2="275.33" y2="555.25" stroke="#000" stroke-width="1.6"/>
<line x1="58.20" y1="387.70" x2="62" y2="387.70" stroke="#000" stroke-width="1.6"/>
<text x="55.40" y="394.10" font-size="22" text-anchor="end">1.0</text>
<line x1="58.20" y1="422.05" x2="62" y2="422.05" stroke="#000" stroke-width="1.6"/>
<text x="55.40" y="428.45" font-size="22" text-anchor="end">0.8</text>
<line x1="58.20" y1="456.40" x2="62" y2="456.40" stroke="#000" stroke-width="1.6"/>
<text x="55.40" y="462.80" font-size="22" text-anchor="end">0.6</text>
<line x1="58.20" y1="490.75" x2="62" y2="490.75" stroke="#000" stroke-width="1.6"/>
<text x="55.40" y="497.15" font-size="22" text-anchor="end">0.4</text>
<line x1="58.20" y1="525.10" x2="62" y2="525.10" stroke="#000" stroke-width="1.6"/>
<text x="55.40" y="531.50" font-size="22" text-anchor="end">0.2</text>
<line x1="59.90" y1="542.27" x2="62" y2="542.27" stroke="#000" stroke-width="1.2"/>
<line x1="59.90" y1="507.92" x2="62" y2="507.92" stroke="#000" stroke-width="1.2"/>
<line x1="59.90" y1="473.57" x2="62" y2="473.57" stroke="#000" stroke-width="1.2"/>
<line x1="59.90" y1="439.23" x2="62" y2="439.23" stroke="#000" stroke-width="1.2"/>
<line x1="59.90" y1="404.88" x2="62" y2="404.88" stroke="#000" stroke-width="1.2"/>
<line x1="59.90" y1="370.52" x2="62" y2="370.52" stroke="#000" stroke-width="1.2"/>
<text x="183.90" y="595.35" font-size="21" text-anchor="middle"><tspan font-style="italic">B</tspan> (T)</text>
<g transform="translate(18.7,490) rotate(-90)"><text x="1.1" y="0" font-style="italic" font-size="21">A</text><text x="13.5" y="-8.2" font-style="italic" font-size="15">B</text><text x="12.8" y="5.3" font-style="italic" font-size="14">x</text><text x="28.0" y="0" font-size="21">(a.u.)</text></g>
<text x="59.5" y="345.8" font-size="22">(c)</text>
<polyline points="62.00,469.28 92.47,458.46 122.95,418.62 153.43,387.70 183.90,387.70 214.38,394.40 244.85,461.55 275.33,489.89 305.80,481.65" fill="none" stroke="#ff0000" stroke-width="2.2" stroke-linejoin="round"/>
<rect x="57.70" y="464.98" width="8.60" height="8.60" fill="#ff0000"/>
<rect x="88.17" y="454.16" width="8.60" height="8.60" fill="#ff0000"/>
<rect x="118.65" y="414.31" width="8.60" height="8.60" fill="#ff0000"/>
<rect x="149.12" y="383.40" width="8.60" height="8.60" fill="#ff0000"/>
<rect x="179.60" y="383.40" width="8.60" height="8.60" fill="#ff0000"/>
<rect x="210.07" y="390.10" width="8.60" height="8.60" fill="#ff0000"/>
<rect x="240.55" y="457.25" width="8.60" height="8.60" fill="#ff0000"/>
<rect x="271.03" y="485.59" width="8.60" height="8.60" fill="#ff0000"/>
<rect x="301.50" y="477.35" width="8.60" height="8.60" fill="#ff0000"/>
<polyline points="62.00,465.85 92.47,457.77 122.95,420.33 153.43,384.44 183.90,387.70 214.38,417.41 244.85,478.56 275.33,520.98 305.80,521.49" fill="none" stroke="#ff6600" stroke-width="2.2" stroke-linejoin="round"/>
<circle cx="62.00" cy="465.85" r="4.9" fill="#ff6600"/>
<circle cx="92.47" cy="457.77" r="4.9" fill="#ff6600"/>
<circle cx="122.95" cy="420.33" r="4.9" fill="#ff6600"/>
<circle cx="153.43" cy="384.44" r="4.9" fill="#ff6600"/>
<circle cx="183.90" cy="387.70" r="4.9" fill="#ff6600"/>
<circle cx="214.38" cy="417.41" r="4.9" fill="#ff6600"/>
<circle cx="244.85" cy="478.56" r="4.9" fill="#ff6600"/>
<circle cx="275.33" cy="520.98" r="4.9" fill="#ff6600"/>
<circle cx="305.80" cy="521.49" r="4.9" fill="#ff6600"/>
<polyline points="62.00,495.90 92.47,462.41 122.95,420.85 153.43,387.70 183.90,385.12 214.38,426.69 244.85,480.79 275.33,533.17 305.80,535.23" fill="none" stroke="#ffee00" stroke-width="2.2" stroke-linejoin="round"/>
<polygon points="62.00,489.26 67.75,499.22 56.25,499.22" fill="#ffee00"/>
<polygon points="92.47,455.77 98.22,465.73 86.72,465.73" fill="#ffee00"/>
<polygon points="122.95,414.21 128.70,424.17 117.20,424.17" fill="#ffee00"/>
<polygon points="153.43,381.06 159.18,391.02 147.68,391.02" fill="#ffee00"/>
<polygon points="183.90,378.48 189.65,388.44 178.15,388.44" fill="#ffee00"/>
<polygon points="214.38,420.05 220.12,430.01 208.62,430.01" fill="#ffee00"/>
<polygon points="244.85,474.15 250.60,484.11 239.10,484.11" fill="#ffee00"/>
<polygon points="275.33,526.53 281.08,536.49 269.58,536.49" fill="#ffee00"/>
<polygon points="305.80,528.59 311.55,538.55 300.05,538.55" fill="#ffee00"/>
<polyline points="62.00,500.37 92.47,474.61 122.95,431.32 153.43,387.70 183.90,387.70 214.38,408.31 244.85,458.29 275.33,514.45 305.80,536.09" fill="none" stroke="#00ff00" stroke-width="2.2" stroke-linejoin="round"/>
<polygon points="62.00,507.01 67.75,497.05 56.25,497.05" fill="#00ff00"/>
<polygon points="92.47,481.24 98.22,471.29 86.72,471.29" fill="#00ff00"/>
<polygon points="122.95,437.96 128.70,428.00 117.20,428.00" fill="#00ff00"/>
<polygon points="153.43,394.34 159.18,384.38 147.68,384.38" fill="#00ff00"/>
<polygon points="183.90,394.34 189.65,384.38 178.15,384.38" fill="#00ff00"/>
<polygon points="214.38,414.95 220.12,404.99 208.62,404.99" fill="#00ff00"/>
<polygon points="244.85,464.93 250.60,454.97 239.10,454.97" fill="#00ff00"/>
<polygon points="275.33,521.09 281.08,511.13 269.58,511.13" fill="#00ff00"/>
<polygon points="305.80,542.73 311.55,532.77 300.05,532.77" fill="#00ff00"/>
<polyline points="62.00,513.08 92.47,477.87 122.95,435.79 153.43,399.38 183.90,387.70 214.38,414.66 244.85,462.58 275.33,510.16 305.80,530.25" fill="none" stroke="#0080ff" stroke-width="2.2" stroke-linejoin="round"/>
<polygon points="62.00,507.08 67.80,513.08 62.00,519.08 56.20,513.08" fill="#0080ff"/>
<polygon points="92.47,471.87 98.27,477.87 92.47,483.87 86.67,477.87" fill="#0080ff"/>
<polygon points="122.95,429.79 128.75,435.79 122.95,441.79 117.15,435.79" fill="#0080ff"/>
<polygon points="153.43,393.38 159.23,399.38 153.43,405.38 147.62,399.38" fill="#0080ff"/>
<polygon points="183.90,381.70 189.70,387.70 183.90,393.70 178.10,387.70" fill="#0080ff"/>
<polygon points="214.38,408.66 220.18,414.66 214.38,420.66 208.57,414.66" fill="#0080ff"/>
<polygon points="244.85,456.58 250.65,462.58 244.85,468.58 239.05,462.58" fill="#0080ff"/>
<polygon points="275.33,504.16 281.13,510.16 275.33,516.16 269.53,510.16" fill="#0080ff"/>
<polygon points="305.80,524.25 311.60,530.25 305.80,536.25 300.00,530.25" fill="#0080ff"/>
<polyline points="92.47,494.53 122.95,447.47 153.43,409.34 183.90,393.20 214.38,405.39 244.85,439.91 275.33,478.21 305.80,500.71" fill="none" stroke="#3c00ff" stroke-width="2.2" stroke-linejoin="round"/>
<polygon points="85.84,494.53 95.79,488.78 95.79,500.28" fill="#3c00ff"/>
<polygon points="116.31,447.47 126.27,441.72 126.27,453.22" fill="#3c00ff"/>
<polygon points="146.79,409.34 156.74,403.59 156.74,415.09" fill="#3c00ff"/>
<polygon points="177.26,393.20 187.22,387.45 187.22,398.95" fill="#3c00ff"/>
<polygon points="207.74,405.39 217.69,399.64 217.69,411.14" fill="#3c00ff"/>
<polygon points="238.21,439.91 248.17,434.16 248.17,445.66" fill="#3c00ff"/>
<polygon points="268.69,478.21 278.64,472.46 278.64,483.96" fill="#3c00ff"/>
<polygon points="299.16,500.71 309.12,494.96 309.12,506.46" fill="#3c00ff"/>
<polyline points="62.00,423.77 92.47,410.89 122.95,400.07 153.43,391.99 183.90,387.70 214.38,388.56 244.85,394.40 275.33,397.83 305.80,400.07" fill="none" stroke="#8c00ff" stroke-width="2.2" stroke-linejoin="round"/>
<polygon points="68.64,423.77 58.68,418.02 58.68,429.52" fill="#8c00ff"/>
<polygon points="99.11,410.89 89.16,405.14 89.16,416.64" fill="#8c00ff"/>
<polygon points="129.59,400.07 119.63,394.32 119.63,405.82" fill="#8c00ff"/>
<polygon points="160.06,391.99 150.11,386.24 150.11,397.74" fill="#8c00ff"/>
<polygon points="190.54,387.70 180.58,381.95 180.58,393.45" fill="#8c00ff"/>
<polygon points="221.01,388.56 211.06,382.81 211.06,394.31" fill="#8c00ff"/>
<polygon points="251.49,394.40 241.53,388.65 241.53,400.15" fill="#8c00ff"/>
<polygon points="281.96,397.83 272.01,392.08 272.01,403.58" fill="#8c00ff"/>
<polygon points="312.44,400.07 302.48,394.32 302.48,405.82" fill="#8c00ff"/>
<line x1="93.30" y1="479.40" x2="130.90" y2="479.40" stroke="#ff0000" stroke-width="2.2" stroke-linecap="round"/>
<rect x="107.80" y="475.10" width="8.60" height="8.60" fill="#ff0000"/>
<text x="168.00" y="484.50" font-size="17" text-anchor="end">10 K</text>
<line x1="169.00" y1="479.40" x2="206.60" y2="479.40" stroke="#ff6600" stroke-width="2.2" stroke-linecap="round"/>
<circle cx="187.80" cy="479.40" r="4.9" fill="#ff6600"/>
<text x="244.90" y="484.50" font-size="17" text-anchor="end">20 K</text>
<line x1="93.30" y1="500.57" x2="130.90" y2="500.57" stroke="#ffee00" stroke-width="2.2" stroke-linecap="round"/>
<polygon points="112.10,493.93 117.85,503.89 106.35,503.89" fill="#ffee00"/>
<text x="168.00" y="505.67" font-size="17" text-anchor="end">30 K</text>
<line x1="169.00" y1="500.57" x2="206.60" y2="500.57" stroke="#00ff00" stroke-width="2.2" stroke-linecap="round"/>
<polygon points="187.80,507.21 193.55,497.25 182.05,497.25" fill="#00ff00"/>
<text x="244.90" y="505.67" font-size="17" text-anchor="end">35 K</text>
<line x1="93.30" y1="521.74" x2="130.90" y2="521.74" stroke="#0080ff" stroke-width="2.2" stroke-linecap="round"/>
<polygon points="112.10,515.74 117.90,521.74 112.10,527.74 106.30,521.74" fill="#0080ff"/>
<text x="168.00" y="526.84" font-size="17" text-anchor="end">40 K</text>
<line x1="169.00" y1="521.74" x2="206.60" y2="521.74" stroke="#3c00ff" stroke-width="2.2" stroke-linecap="round"/>
<polygon points="181.16,521.74 191.12,515.99 191.12,527.49" fill="#3c00ff"/>
<text x="244.90" y="526.84" font-size="17" text-anchor="end">50 K</text>
<line x1="93.30" y1="542.91" x2="130.90" y2="542.91" stroke="#8c00ff" stroke-width="2.2" stroke-linecap="round"/>
<polygon points="118.74,542.91 108.78,537.16 108.78,548.66" fill="#8c00ff"/>
<text x="168.00" y="548.01" font-size="17" text-anchor="end">60 K</text>
<line x1="62" y1="356.7" x2="305.8" y2="356.7" stroke="#000" stroke-width="2.0" stroke-linecap="square"/>
<line x1="305.8" y1="356.7" x2="305.8" y2="552.85" stroke="#000" stroke-width="2.0" stroke-linecap="square"/>
<line x1="86.38" y1="356.7" x2="86.38" y2="359.09999999999997" stroke="#000" stroke-width="1.6"/>
<line x1="303.00" y1="376.31" x2="305.8" y2="376.31" stroke="#000" stroke-width="1.6"/>
<line x1="110.76" y1="356.7" x2="110.76" y2="359.09999999999997" stroke="#000" stroke-width="1.6"/>
<line x1="303.00" y1="395.93" x2="305.8" y2="395.93" stroke="#000" stroke-width="1.6"/>
<line x1="135.14" y1="356.7" x2="135.14" y2="359.09999999999997" stroke="#000" stroke-width="1.6"/>
<line x1="303.00" y1="415.55" x2="305.8" y2="415.55" stroke="#000" stroke-width="1.6"/>
<line x1="159.52" y1="356.7" x2="159.52" y2="359.09999999999997" stroke="#000" stroke-width="1.6"/>
<line x1="303.00" y1="435.16" x2="305.8" y2="435.16" stroke="#000" stroke-width="1.6"/>
<line x1="183.90" y1="356.7" x2="183.90" y2="359.09999999999997" stroke="#000" stroke-width="1.6"/>
<line x1="303.00" y1="454.77" x2="305.8" y2="454.77" stroke="#000" stroke-width="1.6"/>
<line x1="208.28" y1="356.7" x2="208.28" y2="359.09999999999997" stroke="#000" stroke-width="1.6"/>
<line x1="303.00" y1="474.39" x2="305.8" y2="474.39" stroke="#000" stroke-width="1.6"/>
<line x1="232.66" y1="356.7" x2="232.66" y2="359.09999999999997" stroke="#000" stroke-width="1.6"/>
<line x1="303.00" y1="494.00" x2="305.8" y2="494.00" stroke="#000" stroke-width="1.6"/>
<line x1="257.04" y1="356.7" x2="257.04" y2="359.09999999999997" stroke="#000" stroke-width="1.6"/>
<line x1="303.00" y1="513.62" x2="305.8" y2="513.62" stroke="#000" stroke-width="1.6"/>
<line x1="281.42" y1="356.7" x2="281.42" y2="359.09999999999997" stroke="#000" stroke-width="1.6"/>
<line x1="303.00" y1="533.24" x2="305.8" y2="533.24" stroke="#000" stroke-width="1.6"/>
<line x1="435.5" y1="356.6" x2="435.5" y2="553.9" stroke="#000" stroke-width="2.0" stroke-linecap="square"/>
<line x1="435.5" y1="553.9" x2="680.45" y2="553.9" stroke="#000" stroke-width="2.0" stroke-linecap="square"/>
<line x1="435.50" y1="553.9" x2="435.50" y2="557.6999999999999" stroke="#000" stroke-width="1.6"/>
<text x="435.50" y="576.80" font-size="22" text-anchor="middle">-6</text>
<line x1="496.74" y1="553.9" x2="496.74" y2="557.6999999999999" stroke="#000" stroke-width="1.6"/>
<text x="496.74" y="576.80" font-size="22" text-anchor="middle">-3</text>
<line x1="557.98" y1="553.9" x2="557.98" y2="557.6999999999999" stroke="#000" stroke-width="1.6"/>
<text x="557.98" y="576.80" font-size="22" text-anchor="middle">0</text>
<line x1="619.21" y1="553.9" x2="619.21" y2="557.6999999999999" stroke="#000" stroke-width="1.6"/>
<text x="619.21" y="576.80" font-size="22" text-anchor="middle">3</text>
<line x1="680.45" y1="553.9" x2="680.45" y2="557.6999999999999" stroke="#000" stroke-width="1.6"/>
<text x="680.45" y="576.80" font-size="22" text-anchor="middle">6</text>
<line x1="466.12" y1="553.9" x2="466.12" y2="556.3" stroke="#000" stroke-width="1.6"/>
<line x1="527.36" y1="553.9" x2="527.36" y2="556.3" stroke="#000" stroke-width="1.6"/>
<line x1="588.59" y1="553.9" x2="588.59" y2="556.3" stroke="#000" stroke-width="1.6"/>
<line x1="649.83" y1="553.9" x2="649.83" y2="556.3" stroke="#000" stroke-width="1.6"/>
<line x1="431.70" y1="371.30" x2="435.5" y2="371.30" stroke="#000" stroke-width="1.6"/>
<text x="428.90" y="377.70" font-size="22" text-anchor="end">2.5</text>
<line x1="431.70" y1="407.81" x2="435.5" y2="407.81" stroke="#000" stroke-width="1.6"/>
<text x="428.90" y="414.21" font-size="22" text-anchor="end">2.0</text>
<line x1="431.70" y1="444.32" x2="435.5" y2="444.32" stroke="#000" stroke-width="1.6"/>
<text x="428.90" y="450.72" font-size="22" text-anchor="end">1.5</text>
<line x1="431.70" y1="480.83" x2="435.5" y2="480.83" stroke="#000" stroke-width="1.6"/>
<text x="428.90" y="487.23" font-size="22" text-anchor="end">1.0</text>
<line x1="431.70" y1="517.34" x2="435.5" y2="517.34" stroke="#000" stroke-width="1.6"/>
<text x="428.90" y="523.74" font-size="22" text-anchor="end">0.5</text>
<line x1="431.70" y1="553.85" x2="435.5" y2="553.85" stroke="#000" stroke-width="1.6"/>
<text x="428.90" y="560.25" font-size="22" text-anchor="end">0.0</text>
<line x1="433.40" y1="535.60" x2="435.5" y2="535.60" stroke="#000" stroke-width="1.2"/>
<line x1="433.40" y1="499.09" x2="435.5" y2="499.09" stroke="#000" stroke-width="1.2"/>
<line x1="433.40" y1="462.58" x2="435.5" y2="462.58" stroke="#000" stroke-width="1.2"/>
<line x1="433.40" y1="426.07" x2="435.5" y2="426.07" stroke="#000" stroke-width="1.2"/>
<line x1="433.40" y1="389.56" x2="435.5" y2="389.56" stroke="#000" stroke-width="1.2"/>
<text x="557.98" y="596.40" font-size="21" text-anchor="middle"><tspan font-style="italic">B</tspan> (T)</text>
<g transform="translate(394.5,490.5) rotate(-90)"><text x="0.9" y="0" font-style="italic" font-size="21">A</text><text x="13.1" y="-8.3" font-style="italic" font-size="15">B</text><text x="13.6" y="4.9" font-style="italic" font-size="14">y</text><text x="27.1" y="0" font-size="21">(a.u.)</text></g>
<text x="433.6" y="344.5" font-size="22">(d)</text>
<clipPath id="c435356"><rect x="436.5" y="357.6" width="242.95" height="195.30"/></clipPath><g clip-path="url(#c435356)">
<polyline points="435.50,521.77 466.12,517.90 496.74,514.11 527.36,510.60 557.98,480.60 588.59,482.06 619.21,491.99 649.83,506.00 680.45,519.87" fill="none" stroke="#ff0000" stroke-width="2.2" stroke-linejoin="round"/>
<rect x="431.20" y="517.47" width="8.60" height="8.60" fill="#ff0000"/>
<rect x="461.82" y="513.60" width="8.60" height="8.60" fill="#ff0000"/>
<rect x="492.44" y="509.81" width="8.60" height="8.60" fill="#ff0000"/>
<rect x="523.06" y="506.30" width="8.60" height="8.60" fill="#ff0000"/>
<rect x="553.68" y="476.30" width="8.60" height="8.60" fill="#ff0000"/>
<rect x="584.29" y="477.76" width="8.60" height="8.60" fill="#ff0000"/>
<rect x="614.91" y="487.69" width="8.60" height="8.60" fill="#ff0000"/>
<rect x="645.53" y="501.70" width="8.60" height="8.60" fill="#ff0000"/>
<rect x="676.15" y="515.57" width="8.60" height="8.60" fill="#ff0000"/>
<polyline points="435.50,451.47 466.12,455.42 496.74,469.65 527.36,484.10 557.98,480.60 588.59,467.10 619.21,453.81 649.83,453.81 680.45,468.19" fill="none" stroke="#ff6600" stroke-width="2.2" stroke-linejoin="round"/>
<circle cx="435.50" cy="451.47" r="4.9" fill="#ff6600"/>
<circle cx="466.12" cy="455.42" r="4.9" fill="#ff6600"/>
<circle cx="496.74" cy="469.65" r="4.9" fill="#ff6600"/>
<circle cx="527.36" cy="484.10" r="4.9" fill="#ff6600"/>
<circle cx="557.98" cy="480.60" r="4.9" fill="#ff6600"/>
<circle cx="588.59" cy="467.10" r="4.9" fill="#ff6600"/>
<circle cx="619.21" cy="453.81" r="4.9" fill="#ff6600"/>
<circle cx="649.83" cy="453.81" r="4.9" fill="#ff6600"/>
<circle cx="680.45" cy="468.19" r="4.9" fill="#ff6600"/>
<polyline points="435.50,432.13 466.12,427.53 496.74,442.64 527.36,467.10 557.98,480.60 588.59,460.09 619.21,445.41 649.83,444.90 680.45,459.43" fill="none" stroke="#ffee00" stroke-width="2.2" stroke-linejoin="round"/>
<polygon points="435.50,425.49 441.25,435.45 429.75,435.45" fill="#ffee00"/>
<polygon points="466.12,420.89 471.87,430.85 460.37,430.85" fill="#ffee00"/>
<polygon points="496.74,436.00 502.49,445.96 490.99,445.96" fill="#ffee00"/>
<polygon points="527.36,460.46 533.11,470.41 521.61,470.41" fill="#ffee00"/>
<polygon points="557.98,473.96 563.73,483.92 552.23,483.92" fill="#ffee00"/>
<polygon points="588.59,453.45 594.34,463.41 582.84,463.41" fill="#ffee00"/>
<polygon points="619.21,438.77 624.96,448.73 613.46,448.73" fill="#ffee00"/>
<polygon points="649.83,438.26 655.58,448.22 644.08,448.22" fill="#ffee00"/>
<polygon points="680.45,452.79 686.20,462.75 674.70,462.75" fill="#ffee00"/>
<polyline points="435.50,513.67 466.12,497.39 496.74,486.44 527.36,484.98 557.98,480.60 588.59,507.83 619.21,533.01 649.83,541.63 680.45,530.68" fill="none" stroke="#00ff00" stroke-width="2.2" stroke-linejoin="round"/>
<polygon points="435.50,520.31 441.25,510.35 429.75,510.35" fill="#00ff00"/>
<polygon points="466.12,504.03 471.87,494.07 460.37,494.07" fill="#00ff00"/>
<polygon points="496.74,493.08 502.49,483.12 490.99,483.12" fill="#00ff00"/>
<polygon points="527.36,491.62 533.11,481.66 521.61,481.66" fill="#00ff00"/>
<polygon points="557.98,487.24 563.73,477.28 552.23,477.28" fill="#00ff00"/>
<polygon points="588.59,514.47 594.34,504.51 582.84,504.51" fill="#00ff00"/>
<polygon points="619.21,539.65 624.96,529.69 613.46,529.69" fill="#00ff00"/>
<polygon points="649.83,548.27 655.58,538.31 644.08,538.31" fill="#00ff00"/>
<polygon points="680.45,537.32 686.20,527.36 674.70,527.36" fill="#00ff00"/>
<polyline points="435.50,516.74 466.12,497.39 496.74,487.61 527.36,486.44 557.98,480.60 588.59,499.22 619.21,511.33 649.83,514.40 680.45,510.60" fill="none" stroke="#0080ff" stroke-width="2.2" stroke-linejoin="round"/>
<polygon points="435.50,510.74 441.30,516.74 435.50,522.74 429.70,516.74" fill="#0080ff"/>
<polygon points="466.12,491.39 471.92,497.39 466.12,503.39 460.32,497.39" fill="#0080ff"/>
<polygon points="496.74,481.61 502.54,487.61 496.74,493.61 490.94,487.61" fill="#0080ff"/>
<polygon points="527.36,480.44 533.16,486.44 527.36,492.44 521.56,486.44" fill="#0080ff"/>
<polygon points="557.98,474.60 563.77,480.60 557.98,486.60 552.18,480.60" fill="#0080ff"/>
<polygon points="588.59,493.22 594.39,499.22 588.59,505.22 582.79,499.22" fill="#0080ff"/>
<polygon points="619.21,505.33 625.01,511.33 619.21,517.33 613.41,511.33" fill="#0080ff"/>
<polygon points="649.83,508.40 655.63,514.40 649.83,520.40 644.03,514.40" fill="#0080ff"/>
<polygon points="680.45,504.60 686.25,510.60 680.45,516.60 674.65,510.60" fill="#0080ff"/>
<polyline points="435.50,438.41 466.12,435.19 496.74,442.64 527.36,458.48 557.98,480.60 588.59,489.21 619.21,479.87 649.83,465.93 680.45,451.47" fill="none" stroke="#3c00ff" stroke-width="2.2" stroke-linejoin="round"/>
<polygon points="428.86,438.41 438.82,432.66 438.82,444.16" fill="#3c00ff"/>
<polygon points="459.48,435.19 469.44,429.44 469.44,440.94" fill="#3c00ff"/>
<polygon points="490.10,442.64 500.06,436.89 500.06,448.39" fill="#3c00ff"/>
<polygon points="520.72,458.48 530.68,452.73 530.68,464.23" fill="#3c00ff"/>
<polygon points="551.34,480.60 561.29,474.85 561.29,486.35" fill="#3c00ff"/>
<polygon points="581.95,489.21 591.91,483.46 591.91,494.96" fill="#3c00ff"/>
<polygon points="612.57,479.87 622.53,474.12 622.53,485.62" fill="#3c00ff"/>
<polygon points="643.19,465.93 653.15,460.18 653.15,471.68" fill="#3c00ff"/>
<polygon points="673.81,451.47 683.77,445.72 683.77,457.22" fill="#3c00ff"/>
<polyline points="435.50,464.69 466.12,465.42 496.74,469.43 527.36,472.86 557.98,480.60 588.59,479.43 619.21,479.87 649.83,475.20 680.45,472.42" fill="none" stroke="#8c00ff" stroke-width="2.2" stroke-linejoin="round"/>
<polygon points="442.14,464.69 432.18,458.94 432.18,470.44" fill="#8c00ff"/>
<polygon points="472.76,465.42 462.80,459.67 462.80,471.17" fill="#8c00ff"/>
<polygon points="503.38,469.43 493.42,463.68 493.42,475.18" fill="#8c00ff"/>
<polygon points="534.00,472.86 524.04,467.11 524.04,478.61" fill="#8c00ff"/>
<polygon points="564.61,480.60 554.66,474.85 554.66,486.35" fill="#8c00ff"/>
<polygon points="595.23,479.43 585.27,473.68 585.27,485.18" fill="#8c00ff"/>
<polygon points="625.85,479.87 615.89,474.12 615.89,485.62" fill="#8c00ff"/>
<polygon points="656.47,475.20 646.51,469.45 646.51,480.95" fill="#8c00ff"/>
<polygon points="687.09,472.42 677.13,466.67 677.13,478.17" fill="#8c00ff"/>
<polyline points="435.50,476.37 466.12,475.71 496.74,476.95 527.36,477.61 557.98,480.60 588.59,482.72 619.21,482.79 649.83,480.31 680.45,478.99" fill="none" stroke="#ff0000" stroke-width="2.2" stroke-linejoin="round"/>
<polygon points="435.50,470.67 440.44,473.52 440.44,479.22 435.50,482.07 430.56,479.22 430.56,473.52" fill="#ff0000"/>
<polygon points="466.12,470.01 471.06,472.86 471.06,478.56 466.12,481.41 461.18,478.56 461.18,472.86" fill="#ff0000"/>
<polygon points="496.74,471.25 501.67,474.10 501.67,479.80 496.74,482.65 491.80,479.80 491.80,474.10" fill="#ff0000"/>
<polygon points="527.36,471.91 532.29,474.76 532.29,480.46 527.36,483.31 522.42,480.46 522.42,474.76" fill="#ff0000"/>
<polygon points="557.98,474.90 562.91,477.75 562.91,483.45 557.98,486.30 553.04,483.45 553.04,477.75" fill="#ff0000"/>
<polygon points="588.59,477.02 593.53,479.87 593.53,485.57 588.59,488.42 583.66,485.57 583.66,479.87" fill="#ff0000"/>
<polygon points="619.21,477.09 624.15,479.94 624.15,485.64 619.21,488.49 614.28,485.64 614.28,479.94" fill="#ff0000"/>
<polygon points="649.83,474.61 654.77,477.46 654.77,483.16 649.83,486.01 644.89,483.16 644.89,477.46" fill="#ff0000"/>
<polygon points="680.45,473.29 685.39,476.14 685.39,481.84 680.45,484.69 675.51,481.84 675.51,476.14" fill="#ff0000"/>
</g>
<line x1="524.00" y1="367.80" x2="562.30" y2="367.80" stroke="#ff0000" stroke-width="2.2" stroke-linecap="round"/>
<rect x="538.85" y="363.50" width="8.60" height="8.60" fill="#ff0000"/>
<text x="599.00" y="372.90" font-size="17" text-anchor="end">10 K</text>
<line x1="600.00" y1="367.80" x2="638.30" y2="367.80" stroke="#ff6600" stroke-width="2.2" stroke-linecap="round"/>
<circle cx="619.15" cy="367.80" r="4.9" fill="#ff6600"/>
<text x="675.00" y="372.90" font-size="17" text-anchor="end">20 K</text>
<line x1="524.00" y1="389.10" x2="562.30" y2="389.10" stroke="#ffee00" stroke-width="2.2" stroke-linecap="round"/>
<polygon points="543.15,382.46 548.90,392.42 537.40,392.42" fill="#ffee00"/>
<text x="599.00" y="394.20" font-size="17" text-anchor="end">30 K</text>
<line x1="600.00" y1="389.10" x2="638.30" y2="389.10" stroke="#00ff00" stroke-width="2.2" stroke-linecap="round"/>
<polygon points="619.15,395.74 624.90,385.78 613.40,385.78" fill="#00ff00"/>
<text x="675.00" y="394.20" font-size="17" text-anchor="end">35 K</text>
<line x1="524.00" y1="410.40" x2="562.30" y2="410.40" stroke="#0080ff" stroke-width="2.2" stroke-linecap="round"/>
<polygon points="543.15,404.40 548.95,410.40 543.15,416.40 537.35,410.40" fill="#0080ff"/>
<text x="599.00" y="415.50" font-size="17" text-anchor="end">40 K</text>
<line x1="600.00" y1="410.40" x2="638.30" y2="410.40" stroke="#3c00ff" stroke-width="2.2" stroke-linecap="round"/>
<polygon points="612.51,410.40 622.47,404.65 622.47,416.15" fill="#3c00ff"/>
<text x="675.00" y="415.50" font-size="17" text-anchor="end">50 K</text>
<line x1="524.00" y1="431.70" x2="562.30" y2="431.70" stroke="#8c00ff" stroke-width="2.2" stroke-linecap="round"/>
<polygon points="549.79,431.70 539.83,425.95 539.83,437.45" fill="#8c00ff"/>
<text x="599.00" y="436.80" font-size="17" text-anchor="end">60 K</text>
<line x1="600.00" y1="431.70" x2="638.30" y2="431.70" stroke="#ff0000" stroke-width="2.2" stroke-linecap="round"/>
<polygon points="619.15,426.00 624.09,428.85 624.09,434.55 619.15,437.40 614.21,434.55 614.21,428.85" fill="#ff0000"/>
<text x="675.00" y="436.80" font-size="17" text-anchor="end">70 K</text>
<line x1="435.5" y1="356.6" x2="680.45" y2="356.6" stroke="#000" stroke-width="2.0" stroke-linecap="square"/>
<line x1="680.45" y1="356.6" x2="680.45" y2="553.9" stroke="#000" stroke-width="2.0" stroke-linecap="square"/>
<line x1="460.00" y1="356.6" x2="460.00" y2="359.0" stroke="#000" stroke-width="1.6"/>
<line x1="677.65" y1="376.33" x2="680.45" y2="376.33" stroke="#000" stroke-width="1.6"/>
<line x1="484.49" y1="356.6" x2="484.49" y2="359.0" stroke="#000" stroke-width="1.6"/>
<line x1="677.65" y1="396.06" x2="680.45" y2="396.06" stroke="#000" stroke-width="1.6"/>
<line x1="508.99" y1="356.6" x2="508.99" y2="359.0" stroke="#000" stroke-width="1.6"/>
<line x1="677.65" y1="415.79" x2="680.45" y2="415.79" stroke="#000" stroke-width="1.6"/>
<line x1="533.48" y1="356.6" x2="533.48" y2="359.0" stroke="#000" stroke-width="1.6"/>
<line x1="677.65" y1="435.52" x2="680.45" y2="435.52" stroke="#000" stroke-width="1.6"/>
<line x1="557.98" y1="356.6" x2="557.98" y2="359.0" stroke="#000" stroke-width="1.6"/>
<line x1="677.65" y1="455.25" x2="680.45" y2="455.25" stroke="#000" stroke-width="1.6"/>
<line x1="582.47" y1="356.6" x2="582.47" y2="359.0" stroke="#000" stroke-width="1.6"/>
<line x1="677.65" y1="474.98" x2="680.45" y2="474.98" stroke="#000" stroke-width="1.6"/>
<line x1="606.97" y1="356.6" x2="606.97" y2="359.0" stroke="#000" stroke-width="1.6"/>
<line x1="677.65" y1="494.71" x2="680.45" y2="494.71" stroke="#000" stroke-width="1.6"/>
<line x1="631.46" y1="356.6" x2="631.46" y2="359.0" stroke="#000" stroke-width="1.6"/>
<line x1="677.65" y1="514.44" x2="680.45" y2="514.44" stroke="#000" stroke-width="1.6"/>
<line x1="655.96" y1="356.6" x2="655.96" y2="359.0" stroke="#000" stroke-width="1.6"/>
<line x1="677.65" y1="534.17" x2="680.45" y2="534.17" stroke="#000" stroke-width="1.6"/>
</svg></div></body></html>
